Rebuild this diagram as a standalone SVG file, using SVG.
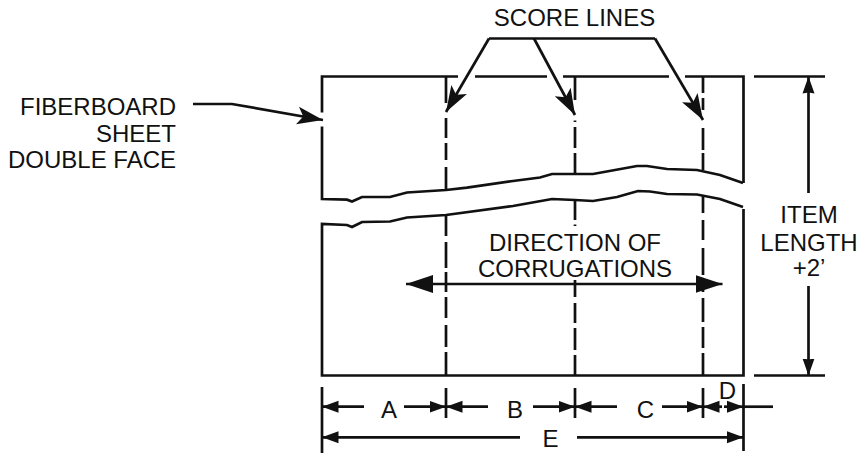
<svg xmlns="http://www.w3.org/2000/svg" width="860" height="455" viewBox="0 0 860 455">
<style>
text{font-family:"Liberation Sans",Arial,sans-serif;font-size:24px;fill:#111}
.l{fill:none;stroke:#111;stroke-width:2.7}
.m{text-anchor:middle}.e{text-anchor:end}
</style>
<defs>
<marker id="a" markerUnits="userSpaceOnUse" markerWidth="28" markerHeight="22" refX="26" refY="11" orient="auto-start-reverse"><path d="M0 2L26 11L0 20L6 11Z" fill="#111"/></marker>
<marker id="b" markerUnits="userSpaceOnUse" markerWidth="18" markerHeight="14" refX="16.500" refY="7" orient="auto-start-reverse"><path d="M0 1L16.500 7L0 13Z" fill="#111"/></marker>
<marker id="c" markerUnits="userSpaceOnUse" markerWidth="30" markerHeight="20" refX="27" refY="10" orient="auto-start-reverse"><path d="M0 1L27 10L0 19Z" fill="#111"/></marker>
<marker id="d" markerUnits="userSpaceOnUse" markerWidth="18" markerHeight="14" refX="17" refY="7" orient="auto-start-reverse"><path d="M0 1L17 7L0 13L1 7Z" fill="#111"/></marker>
</defs>
<g id="sheet" class="l">
<path d="M322 112.500V76.500H458M475 76.500H547M563 76.500H669M685 76.500H743.500V183"/>
<path d="M322 126.500V199L347 199.700L352 201.500L362 197L390 197L407 192.500L446 190L467 187.700L513 181L540 177.500L552 174L575 174L593 174L615 170L637 166L647 166L667 169L697 170L720 175L743 183"/>
<path d="M743 207L720 199L697 194.500L667 194L650 191.500L638 191L617 197L593 201L575 200L552 199L513 206L446 215L407 217.500L390 221.500L362 222L352 227L347 225L322 224V375.500H743.500V209"/>
</g>
<g id="score-lines" class="l">
<path d="M446 76V103M446 118V138M446 143V160M446 167V190M446 215V236M446 242V268M446 272V292M446 297V318M446 325V347M446 352V375"/>
<path d="M575 76V100M575 120.500V122M575 127V148M575 153V174M575 200V220M575 224.500V226M575 280V297M575 303V323M575 328V350M575 355V375"/>
<path d="M703 76V93M703 98V110M703 128V150M703 153V170M703 195V213M703 220V240M703 248V275M703 279V292M703 298V322M703 327V348M703 353V375"/>
</g>
<g id="connectors" class="l">
<path d="M489 38.500H655"/>
<path d="M489 38.500L446 112" marker-end="url(#a)"/>
<path d="M534 38.500L575 115" marker-end="url(#a)"/>
<path d="M655 38.500L703 120" marker-end="url(#a)"/>
<path d="M193 104H232L323 120" marker-end="url(#a)"/>
<path d="M406 284H722.500" marker-start="url(#c)" marker-end="url(#c)"/>
<path d="M808.500 76.500V193" marker-start="url(#d)"/>
<path d="M808.500 286V375.500" marker-end="url(#d)"/>
<path d="M754 76.500H825M754 375.500H825"/>
<path d="M322 387V453M446 388V418M575 388V418M703 388V418M743.500 384V451"/>
<path d="M322 406.700H364" marker-start="url(#b)"/>
<path d="M404 406.700H446" marker-end="url(#b)"/>
<path d="M446 406.700H488" marker-start="url(#b)"/>
<path d="M533 406.700H575" marker-end="url(#b)"/>
<path d="M575 406.700H617" marker-start="url(#b)"/>
<path d="M662 406.700H703" marker-end="url(#b)"/>
<path d="M703 406.700H722" marker-start="url(#b)"/>
<path d="M724 406.700H743.500" marker-end="url(#b)"/>
<path d="M743.500 406.700H773"/>
<path d="M322 437.300H520" marker-start="url(#b)"/>
<path d="M577 437.300H743.500" marker-end="url(#b)"/>
</g>
<g id="labels">
<text class="m" x="574.500" y="25.500">SCORE LINES</text>
<text class="e" x="176" y="115">FIBERBOARD</text>
<text class="e" x="176" y="141.500">SHEET</text>
<text class="e" x="176" y="168">DOUBLE FACE</text>
<text class="m" x="575" y="250.500">DIRECTION OF</text>
<text class="m" x="575" y="277">CORRUGATIONS</text>
<text class="m" x="809" y="223">ITEM</text>
<text class="m" x="809" y="250.500">LENGTH</text>
<text class="m" x="809" y="276">+2’</text>
<text class="m" x="389" y="417.500">A</text>
<text class="m" x="515" y="417.500">B</text>
<text class="m" x="645.500" y="417.500">C</text>
<text class="m" x="727.500" y="399">D</text>
<text class="m" x="550.500" y="447">E</text>
</g>
</svg>
